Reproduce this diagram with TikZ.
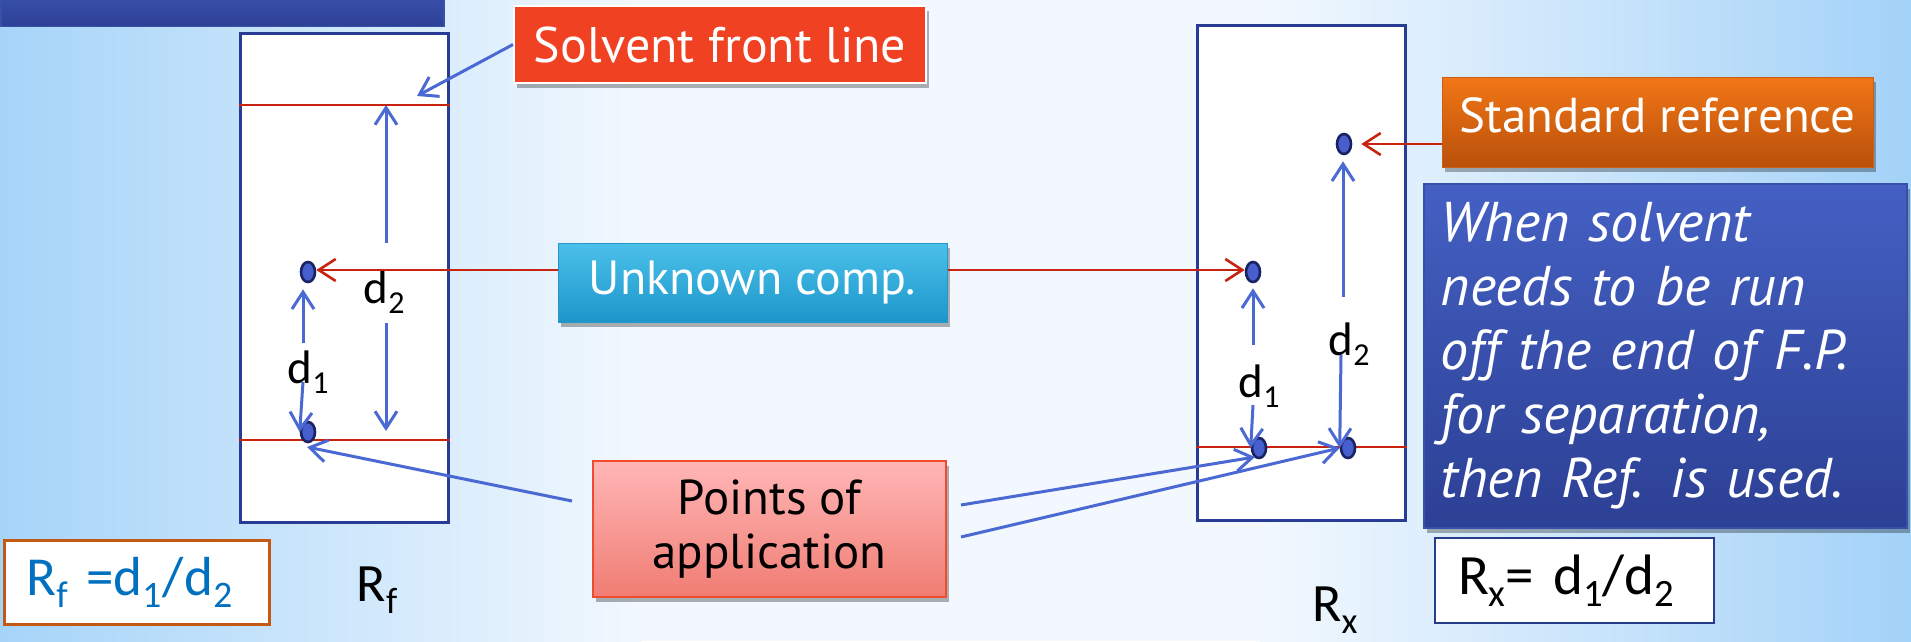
\documentclass[tikz,border=0pt]{standalone}
\usepackage{fontspec}
\setmainfont{Carlito}
\newfontfamily\tw{PT Sans}
\usetikzlibrary{arrows.meta,shadows,shapes.geometric}
\definecolor{bgA}{RGB}{166,212,249}
\definecolor{bgW}{RGB}{242,248,254}
\definecolor{bgB}{RGB}{163,210,248}
\definecolor{stripblue}{RGB}{40,60,150}
\definecolor{redline}{RGB}{200,35,15}
\definecolor{arrowblue}{RGB}{75,105,210}
\definecolor{spotfill}{RGB}{70,95,205}
\definecolor{spotdark}{RGB}{25,35,100}
\definecolor{solvred}{RGB}{240,65,35}
\definecolor{unkT}{RGB}{75,192,234}
\definecolor{unkB}{RGB}{28,150,202}
\definecolor{unkE}{RGB}{40,150,200}
\definecolor{stdT}{RGB}{242,118,22}
\definecolor{stdB}{RGB}{185,80,10}
\definecolor{stdE}{RGB}{200,95,20}
\definecolor{ptsT}{RGB}{255,182,182}
\definecolor{ptsB}{RGB}{240,125,115}
\definecolor{ptsE}{RGB}{240,75,45}
\definecolor{navyT}{RGB}{68,96,195}
\definecolor{navyB}{RGB}{44,64,148}
\definecolor{navyE}{RGB}{55,80,170}
\definecolor{rfborder}{RGB}{195,90,20}
\definecolor{rfblue}{RGB}{0,112,192}
\definecolor{rxborder}{RGB}{40,60,140}
\newcommand{\lowsub}[1]{\raisebox{-0.22em}{\scalebox{0.68}{#1}}}
\begin{document}
\begin{tikzpicture}[x=1pt,y=-1pt,
 barrow/.style={draw=arrowblue,line width=3pt,-{Straight Barb[length=17pt,width=22pt]}},
 rarrow/.style={draw=redline,line width=2.6pt,-{Straight Barb[length=17pt,width=22pt]}},
 redrule/.style={draw=redline,line width=2.2pt},
 strip/.style={draw=stripblue,line width=3pt,fill=white,inner sep=0pt},
 spot/.style={ellipse,draw=spotdark,fill=spotfill,line width=2.6pt,minimum width=14pt,minimum height=20pt,inner sep=0pt},
 dlab/.style={font=\fontsize{47}{50}\selectfont,inner sep=0pt},
 shadowed/.style={drop shadow={shadow xshift=3pt,shadow yshift=-5pt,opacity=0.3,fill=black}},
 boxtext/.style={text=white,inner sep=0pt},
]
\useasboundingbox (0,0) rectangle (1911,641);
% background
\shade[left color=bgA,right color=bgW] (0,0) rectangle (641,641);
\fill[bgW] (640,0) rectangle (1261,641);
\shade[left color=bgW,right color=bgB] (1260,0) rectangle (1911,641);

% title bar (cut off at top)
\node[anchor=south west,minimum width=443pt,minimum height=60pt,inner sep=0pt,
      top color=navyT,bottom color=navyB,draw=navyE,line width=1.5pt] (title) at (0,27) {};

% strips
\node[strip,minimum width=208pt,minimum height=489pt] (stripL) at (344,277.5) {};
\node[strip,minimum width=208pt,minimum height=495pt] (stripR) at (1301,272.5) {};

% red lines
\draw[redrule] (stripL.west |- 0,105) -- (stripL.east |- 0,105);
\draw[redrule] (stripL.west |- 0,440) -- (stripL.east |- 0,440);
\draw[redrule] (stripR.west |- 0,447) -- (stripR.east |- 0,447);

% spots
\node[spot] (sLU) at (308,272) {};
\node[spot] (sLL) at (308,432) {};
\node[spot] (sRU) at (1253,272) {};
\node[spot] (sRref) at (1344,144) {};
\node[spot] (sR1) at (1259,448) {};
\node[spot] (sR2) at (1348,448) {};

% distance labels
\node[dlab] (d1L) at (308,372) {d\lowsub{1}};
\node[dlab] (d2L) at (384,292) {d\lowsub{2}};
\node[dlab] (d1R) at (1259,386) {d\lowsub{1}};
\node[dlab] (d2R) at (1349,344) {d\lowsub{2}};

% distance arrows
\coordinate (fL) at (386,105);
\draw[barrow] (303,343) -- ([xshift=-5pt,yshift=-6pt]sLU.south);
\draw[barrow] (303,382) -- (sLL.west);
\draw[barrow] (386,243) -- (fL);
\draw[barrow] (386,323) -- (386,431);
\draw[barrow] (1253,345) -- ([yshift=-5pt]sRU.south);
\draw[barrow] (1253,405) -- (sR1.west);
\draw[barrow] (1343,297) -- ([xshift=-1pt,yshift=-6pt]sRref.south);
\draw[barrow] (1341,355) -- (sR2.west);

% callouts
\node[shadowed,fill=solvred,draw=white,line width=2pt,minimum width=412pt,minimum height=77pt,
      boxtext,font=\fontsize{50}{60}\selectfont\tw] (solv) at (720,44.5) {Solvent front line};
\node[shadowed,top color=unkT,bottom color=unkB,draw=unkE,line width=1pt,minimum width=389pt,
      minimum height=79pt,boxtext,font=\fontsize{48}{60}\selectfont\tw] (unk) at (752.5,282.5) {Unknown comp.};
\node[shadowed,top color=stdT,bottom color=stdB,draw=stdE,line width=1pt,minimum width=431pt,
      minimum height=90pt,boxtext,font=\fontsize{49}{60}\selectfont\tw] (std) at (1657.5,122) {\raisebox{13pt}{Standard reference}};
\node[shadowed,top color=ptsT,bottom color=ptsB,draw=ptsE,line width=2pt,minimum width=353pt,
      minimum height=136pt,inner sep=0pt,align=center,font=\fontsize{49}{54}\selectfont\tw] (pts) at (769.5,529) {Points of\\application};
\node[shadowed,top color=navyT,bottom color=navyB,draw=navyE,line width=1.5pt,anchor=north west,
      minimum width=483pt,minimum height=344pt,text width=449pt,inner xsep=17pt,align=left,text=white,
      font=\fontsize{56}{64}\selectfont\tw\itshape] (note) at (1423,183)
      {When solvent\\needs to be run\\off the end of F.P.\\for separation,\\then Ref. is used.};

% formula boxes
\node[draw=rfborder,line width=3pt,fill=white,anchor=north west,minimum width=265pt,minimum height=84pt,
      text width=221pt,inner xsep=22pt,align=left,text=rfblue,font=\fontsize{55}{60}\selectfont] (rfbox) at (3,539)
      {\raisebox{-8pt}{R\lowsub{f} =d\lowsub{1}\kern1pt/\kern1pt d\lowsub{2}}};
\node[draw=rxborder,line width=2pt,fill=white,anchor=north west,minimum width=279pt,minimum height=85pt,
      text width=233pt,inner xsep=23pt,align=left,font=\fontsize{57}{60}\selectfont] (rxbox) at (1434,537)
      {\raisebox{-7pt}{R\lowsub{x}= d\lowsub{1}/d\lowsub{2}}};

% strip labels
\node[inner sep=0pt,font=\fontsize{54}{60}\selectfont] (rfl) at (377,590) {R\lowsub{f}};
\node[inner sep=0pt,font=\fontsize{54}{60}\selectfont] (rxl) at (1335,610) {R\lowsub{x}};

% pointer arrows
\coordinate (sfTip) at (417,96);
\draw[barrow] (solv.west) -- (sfTip);
\draw[rarrow] (unk.west |- 0,270) -- (sLU.east |- 0,270);
\draw[rarrow] (unk.east |- 0,270) -- (sRU.west |- 0,270);
\draw[rarrow,shorten >=9pt] (std.west |- sRref.east) -- (sRref.east);
\coordinate (pLTip) at (307,447);
\draw[barrow] ([xshift=-20pt,yshift=28pt]pts.west) -- (pLTip);
\draw[barrow] ([xshift=14pt,yshift=24pt]pts.east) -- ([xshift=-4pt,yshift=-9pt]sR1.center);
\draw[barrow] ([xshift=14pt,yshift=-8pt]pts.east) -- (sR2.west);
\end{tikzpicture}
\end{document}
